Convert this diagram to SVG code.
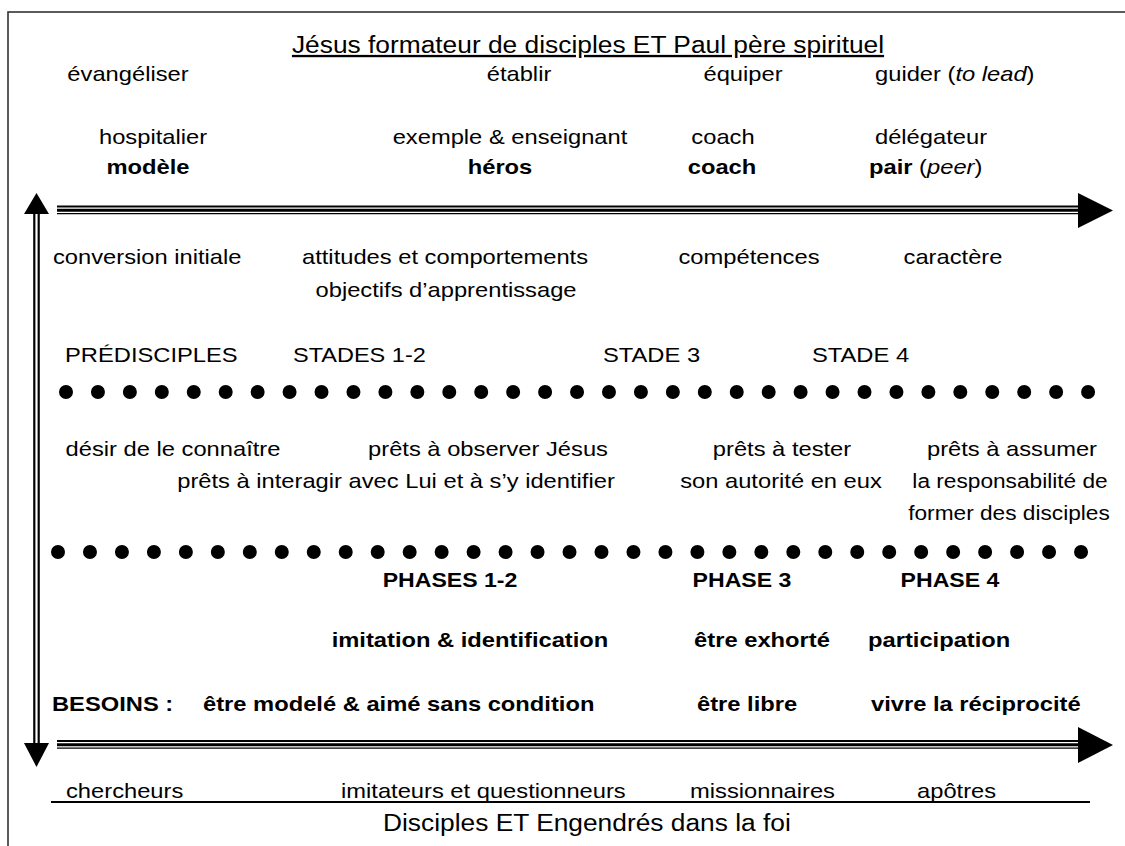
<svg xmlns="http://www.w3.org/2000/svg" width="1125" height="846" viewBox="0 0 1125 846">
  <style>
    .t { font-family: "Liberation Sans", Arial, sans-serif; font-size: 21px; fill: #000; }
    .b { font-weight: bold; }
    .h { font-size: 23.3px; }
    .m { text-anchor: middle; }
    .i { font-style: italic; font-weight: normal; }
    .n { font-weight: normal; }
    .ln { stroke: #000; fill: none; }
    .dots { stroke: #000; stroke-width: 14; stroke-linecap: round; fill: none; }
  </style>

  <rect width="1125" height="846" fill="#fff"/>
  <!-- open frame running off the right and bottom edges -->
  <rect x="8" y="12" width="1200" height="900" fill="none" stroke="#333" stroke-width="1.6"/>

  <g id="connectors">
    <!-- top timeline arrow (thin-thick-thin rule) -->
    <g id="arrow-top">
      <line class="ln" x1="57" y1="206.5" x2="1080" y2="206.5" stroke-width="2"/>
      <line class="ln" x1="57" y1="210.2" x2="1080" y2="210.2" stroke-width="3"/>
      <line class="ln" x1="57" y1="213.6" x2="1080" y2="213.6" stroke-width="1.3"/>
      <path d="M1078,193 L1113,210.5 L1078,228 Z" fill="#000"/>
    </g>
    <!-- bottom timeline arrow -->
    <g id="arrow-bottom">
      <line class="ln" x1="57" y1="741" x2="1080" y2="741" stroke-width="2"/>
      <line class="ln" x1="57" y1="744.7" x2="1080" y2="744.7" stroke-width="3"/>
      <line class="ln" x1="57" y1="748.1" x2="1080" y2="748.1" stroke-width="1.3"/>
      <path d="M1078,727 L1113,745 L1078,763 Z" fill="#000"/>
    </g>
    <!-- vertical double-headed arrow -->
    <g id="arrow-vertical">
      <line class="ln" x1="34.3" y1="212" x2="34.3" y2="745" stroke-width="2.2"/>
      <line class="ln" x1="38.7" y1="212" x2="38.7" y2="745" stroke-width="2.2"/>
      <path d="M36.5,193 L49,214 L24,214 Z" fill="#000"/>
      <path d="M36.5,767 L49,743 L24,743 Z" fill="#000"/>
    </g>
    <!-- dotted separators -->
    <line class="dots" x1="66" y1="392" x2="1090" y2="392" stroke-dasharray="0 31.94"/>
    <line class="dots" x1="58" y1="552" x2="1083" y2="552" stroke-dasharray="0 31.97"/>
    <!-- baseline rule under the disciple types -->
    <line class="ln" x1="51" y1="802" x2="1090" y2="802" stroke-width="2"/>
  </g>

  <g id="title-top">
    <text class="t h m" text-decoration="underline" transform="translate(588 53) scale(1.13 1)">Jésus formateur de disciples ET Paul père spirituel</text>
  </g>

  <g id="col-1">
    <text class="t m" transform="translate(128 81) scale(1.13 1)">évangéliser</text>
    <text class="t m" transform="translate(153 144) scale(1.13 1)">hospitalier</text>
    <text class="t b m" transform="translate(148 174) scale(1.13 1)">modèle</text>
    <text class="t" transform="translate(53 264) scale(1.13 1)">conversion initiale</text>
    <text class="t" transform="translate(65 362) scale(1.13 1)">PRÉDISCIPLES</text>
    <text class="t m" transform="translate(173 456) scale(1.13 1)">désir de le connaître</text>
    <text class="t b" transform="translate(52 711) scale(1.13 1)">BESOINS :</text>
    <text class="t" transform="translate(66 798) scale(1.13 1)">chercheurs</text>
  </g>

  <g id="col-2">
    <text class="t m" transform="translate(519 81) scale(1.13 1)">établir</text>
    <text class="t m" transform="translate(510 144) scale(1.13 1)">exemple &amp; enseignant</text>
    <text class="t b m" transform="translate(500 174) scale(1.13 1)">héros</text>
    <text class="t m" transform="translate(445 264) scale(1.13 1)">attitudes et comportements</text>
    <text class="t m" transform="translate(446 297) scale(1.13 1)">objectifs d’apprentissage</text>
    <text class="t" transform="translate(293 362) scale(1.12 1)">STADES 1-2</text>
    <text class="t m" transform="translate(488 456) scale(1.13 1)">prêts à observer Jésus</text>
    <text class="t m" transform="translate(396 488) scale(1.13 1)">prêts à interagir avec Lui et à s’y identifier</text>
    <text class="t b m" transform="translate(450 587) scale(1.1 1)">PHASES 1-2</text>
    <text class="t b m" transform="translate(470 647) scale(1.13 1)">imitation &amp; identification</text>
    <text class="t b" transform="translate(203 711) scale(1.13 1)">être modelé &amp; aimé sans condition</text>
    <text class="t" transform="translate(341 798) scale(1.13 1)">imitateurs et questionneurs</text>
  </g>

  <g id="col-3">
    <text class="t m" transform="translate(743 81) scale(1.13 1)">équiper</text>
    <text class="t m" transform="translate(723 144) scale(1.13 1)">coach</text>
    <text class="t b m" transform="translate(722 174) scale(1.13 1)">coach</text>
    <text class="t m" transform="translate(749 264) scale(1.13 1)">compétences</text>
    <text class="t" transform="translate(603 362) scale(1.13 1)">STADE 3</text>
    <text class="t m" transform="translate(782 456) scale(1.13 1)">prêts à tester</text>
    <text class="t m" transform="translate(781 488) scale(1.13 1)">son autorité en eux</text>
    <text class="t b m" transform="translate(742 587) scale(1.1 1)">PHASE 3</text>
    <text class="t b m" transform="translate(762 647) scale(1.13 1)">être exhorté</text>
    <text class="t b" transform="translate(697 711) scale(1.13 1)">être libre</text>
    <text class="t" transform="translate(690 798) scale(1.13 1)">missionnaires</text>
  </g>

  <g id="col-4">
    <text class="t" transform="translate(875 81) scale(1.13 1)">guider (<tspan class="i">to lead</tspan>)</text>
    <text class="t m" transform="translate(931 144) scale(1.13 1)">délégateur</text>
    <text class="t b" transform="translate(869 174) scale(1.13 1)">pair <tspan class="n">(</tspan><tspan class="i">peer</tspan><tspan class="n">)</tspan></text>
    <text class="t m" transform="translate(953 264) scale(1.13 1)">caractère</text>
    <text class="t" transform="translate(812 362) scale(1.13 1)">STADE 4</text>
    <text class="t m" transform="translate(1012 456) scale(1.13 1)">prêts à assumer</text>
    <text class="t m" transform="translate(1010 488) scale(1.08 1)">la responsabilité de</text>
    <text class="t m" transform="translate(1009 520) scale(1.08 1)">former des disciples</text>
    <text class="t b m" transform="translate(950 587) scale(1.1 1)">PHASE 4</text>
    <text class="t b" transform="translate(868 647) scale(1.13 1)">participation</text>
    <text class="t b" transform="translate(871 711) scale(1.13 1)">vivre la réciprocité</text>
    <text class="t" transform="translate(917 798) scale(1.13 1)">apôtres</text>
  </g>

  <g id="title-bottom">
    <text class="t h" transform="translate(383 831) scale(1.13 1)">Disciples ET Engendrés dans la foi</text>
  </g>
</svg>
